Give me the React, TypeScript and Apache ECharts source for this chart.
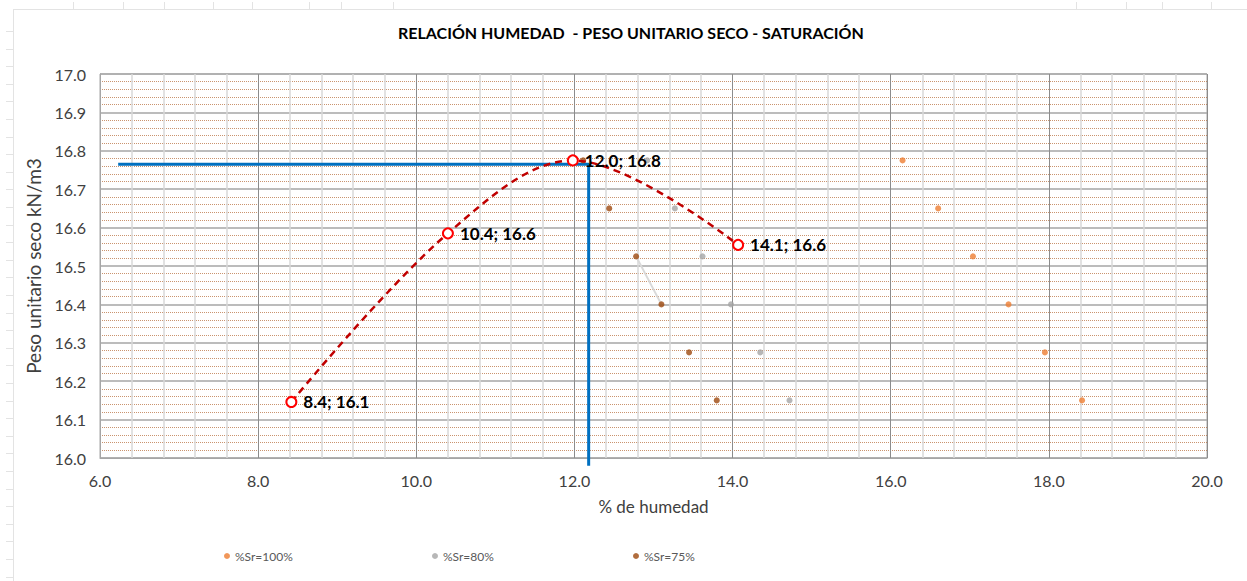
import React, { useEffect, useRef } from "react";
import * as echarts from "echarts";

// Compaction curve (humidity %, dry unit weight kN/m3)
const proctorX = [8.42, 10.4, 11.98, 14.07];
const proctorY = [16.146, 16.585, 16.775, 16.555];

// Saturation lines
const sat100X = [16.15, 16.6, 17.04, 17.49, 17.95, 18.42];
const sat100Y = [16.775, 16.65, 16.525, 16.4, 16.275, 16.15];
const sat80X = [12.92, 13.27, 13.62, 13.98, 14.35, 14.72];
const sat80Y = [16.775, 16.65, 16.525, 16.4, 16.275, 16.15];
const sat75X = [12.11, 12.44, 12.78, 13.1, 13.45, 13.8];
const sat75Y = [16.775, 16.65, 16.525, 16.4, 16.275, 16.15];

// Optimum reference lines
const optX = [6.23, 12.18, 12.18];
const optY = [16.765, 16.765, 15.98];

// Light grey segment
const segX = [12.78, 13.1];
const segY = [16.525, 16.4];

const seriesNames = ["%Sr=100%", "%Sr=80%", "%Sr=75%"];
const seriesColors = ["#ED7D31", "#A5A5A5", "#9E480E"];
const title = "RELACIÓN HUMEDAD  - PESO UNITARIO SECO - SATURACIÓN";
const xName = "% de humedad";
const yName = "Peso unitario seco kN/m3";

const zip = (xs: number[], ys: number[]) => xs.map((x, i) => [x, ys[i]]);

const FONT = "Lato, 'Open Sans', sans-serif";

export default function App() {
  const ref = useRef<HTMLDivElement>(null);
  useEffect(() => {
    if (!ref.current) return;
    const chart = echarts.init(ref.current, undefined, { renderer: "svg" });

    const topTicks = [73, 123, 164, 213, 252, 309, 341, 393, 1076, 1126, 1162, 1211];
    const leftTicks: number[] = [];
    for (let y = 31; y < 581; y += 17.6) leftTicks.push(Math.round(y) + 0.5);

    const graphic: any[] = [
      { type: "line", shape: { x1: 13, y1: 9.5, x2: 1247, y2: 9.5 }, style: { stroke: "#E3E3E3", lineWidth: 1 }, silent: true },
      { type: "line", shape: { x1: 13.5, y1: 9, x2: 13.5, y2: 581 }, style: { stroke: "#E3E3E3", lineWidth: 1 }, silent: true },
      ...topTicks.map((x) => ({ type: "line", shape: { x1: x + 0.5, y1: 2, x2: x + 0.5, y2: 9 }, style: { stroke: "#E3E3E3", lineWidth: 1 }, silent: true })),
      ...leftTicks.map((y) => ({ type: "line", shape: { x1: 6, y1: y, x2: 13, y2: y }, style: { stroke: "#E3E3E3", lineWidth: 1 }, silent: true })),
    ];

    const legendLefts = [224, 432, 633];

    chart.setOption({
      animation: false,
      backgroundColor: "#FFFFFF",
      textStyle: { fontFamily: FONT },
      graphic,
      title: {
        text: title,
        left: 393,
        top: 19,
        textStyle: { fontSize: 16, fontWeight: "bold", color: "#000000", fontFamily: FONT },
      },
      legend: seriesNames.map((n, i) => ({
        data: [n],
        left: legendLefts[i],
        top: 550,
        padding: 0,
        itemWidth: 6,
        itemHeight: 6,
        itemGap: 6,
        icon: "circle",
        textStyle: { fontSize: 12, color: "#595959", fontFamily: FONT },
      })),
      grid: {
        left: 100,
        top: 74,
        right: 40,
        bottom: 123,
        show: true,
        borderColor: "#A6A6A6",
        borderWidth: 1,
      },
      xAxis: {
        type: "value",
        min: 6,
        max: 20,
        interval: 2,
        name: xName,
        nameLocation: "middle",
        nameGap: 40,
        nameTextStyle: { fontSize: 17, color: "#404040", fontFamily: FONT },
        axisLine: { show: true, lineStyle: { color: "#A6A6A6" } },
        axisTick: { show: false },
        axisLabel: { fontSize: 16, color: "#404040", margin: 14, formatter: (v: number) => v.toFixed(1) },
        splitLine: { show: true, lineStyle: { color: "#8C8C8C", width: 1 } },
        minorTick: { show: false, splitNumber: 5 },
        minorSplitLine: { show: true, lineStyle: { color: "#D9D9D9", width: 1.5 } },
      },
      yAxis: {
        type: "value",
        min: 16,
        max: 17,
        interval: 0.1,
        name: yName,
        nameLocation: "middle",
        nameGap: 45,
        nameTextStyle: { fontSize: 19, color: "#404040", fontFamily: FONT },
        axisLine: { show: true, lineStyle: { color: "#A6A6A6" } },
        axisTick: { show: false },
        axisLabel: { fontSize: 16, color: "#404040", margin: 14, formatter: (v: number) => v.toFixed(1) },
        splitLine: { show: true, lineStyle: { color: "#A6A6A6", width: 1.5 } },
        minorTick: { show: false, splitNumber: 5 },
        minorSplitLine: { show: true, lineStyle: { color: "#B8703F", width: 1, type: [1, 1], opacity: 0.75 } },
      },
      series: [
        {
          name: "opt",
          type: "line",
          data: zip(optX, optY),
          symbol: "none",
          clip: false,
          silent: true,
          lineStyle: { color: "#0070C0", width: 3 },
          z: 3,
        },
        {
          name: "seg",
          type: "line",
          data: zip(segX, segY),
          symbol: "none",
          silent: true,
          lineStyle: { color: "#D9D9D9", width: 2 },
          z: 3,
        },
        ...seriesNames.map((n, i) => ({
          name: n,
          type: "scatter",
          data: [zip(sat100X, sat100Y), zip(sat80X, sat80Y), zip(sat75X, sat75Y)][i],
          symbolSize: 6,
          itemStyle: { color: seriesColors[i] },
          z: 4,
        })),
        {
          name: "Proctor",
          type: "line",
          smooth: 0.35,
          data: zip(proctorX, proctorY),
          symbol: "emptyCircle",
          symbolSize: 10,
          showAllSymbol: true,
          lineStyle: { color: "#C00000", width: 2.5, type: [7, 5] },
          itemStyle: { color: "#FF0000", borderColor: "#E00000", borderWidth: 1.5 },
          label: {
            show: true,
            position: "right",
            distance: 6,
            fontSize: 17,
            fontWeight: "bold",
            color: "#000000",
            fontFamily: FONT,
            formatter: (p: any) => `${p.value[0].toFixed(1)}; ${p.value[1].toFixed(1)}`,
          },
          z: 5,
        },
      ],
    });
    return () => chart.dispose();
  }, []);
  return (
    <div
      ref={ref}
      style={{ position: "fixed", left: 0, top: 0, width: 1247, height: 581 }}
    />
  );
}
